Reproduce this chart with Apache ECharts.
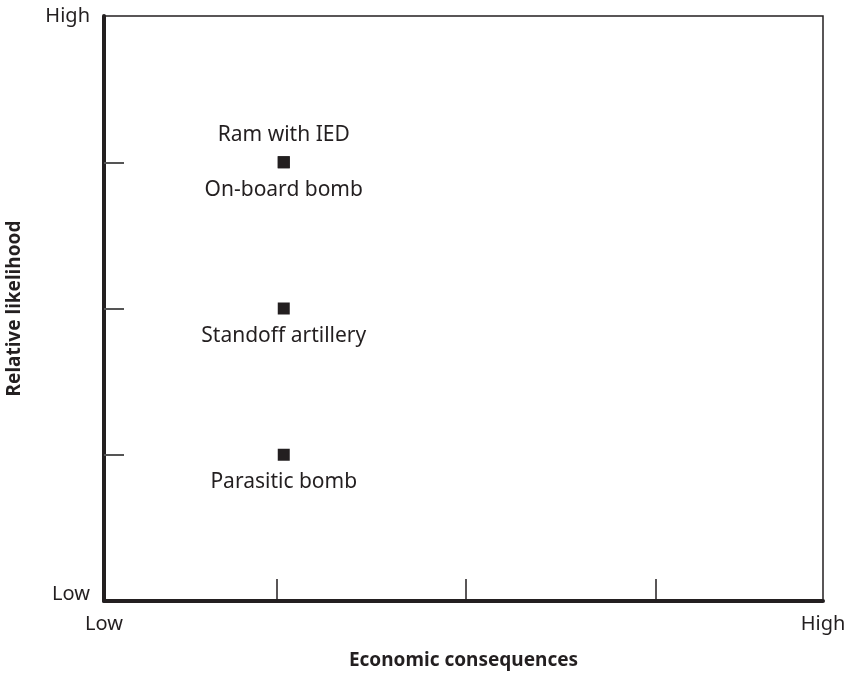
<!DOCTYPE html>
<html>
<head>
<meta charset="utf-8">
<script src="https://cdn.jsdelivr.net/npm/echarts@6/dist/echarts.min.js"></script>
<style>html,body{margin:0;padding:0;background:#fff}#c{width:848px;height:675px}</style>
</head>
<body>
<div id="c"></div>
<script>
// Data
const scenarios = ['Ram with IED', 'On-board bomb', 'Standoff artillery', 'Parasitic bomb'];
const economicConsequences = [25, 25, 25, 25];
const relativeLikelihood = [3, 3, 2, 1];
const labelSide = ['top', 'bottom', 'bottom', 'bottom'];
const xTickValues = [24, 50.3, 76.8];
const yTickValues = [1, 2, 3];
const xEndLabels = ['Low', 'High'];
const yEndLabels = ['Low', 'High'];
const xRange = [0, 100];
const yRange = [0, 4];

const FONT = 'Noto Sans';
const INK = '#231f20';

const chart = echarts.init(document.getElementById('c'), null, {renderer: 'canvas'});
chart.setOption({
  animation: false,
  backgroundColor: '#fff',
  grid: {left: 104, top: 16, right: 25, bottom: 74, show: true, borderColor: INK, borderWidth: 1.5,
    containLabel: false, outerBoundsMode: 'none'},
  xAxis: {
    type: 'value', min: xRange[0], max: xRange[1],
    name: 'Economic consequences', nameLocation: 'middle', nameGap: 50,
    nameTextStyle: {fontFamily: FONT, fontWeight: 'bold', fontSize: 19, color: INK},
    splitLine: {show: false},
    axisLine: {show: true, lineStyle: {color: INK, width: 4}},
    axisTick: {show: true, inside: true, length: 22, customValues: xTickValues, lineStyle: {color: INK, width: 1.5}},
    axisLabel: {show: true, customValues: xRange, margin: 13, fontFamily: FONT, fontSize: 20, color: INK,
      formatter: v => v === xRange[0] ? xEndLabels[0] : xEndLabels[1]}
  },
  yAxis: {
    type: 'value', min: yRange[0], max: yRange[1],
    name: 'Relative likelihood', nameLocation: 'middle', nameGap: 80,
    nameTextStyle: {fontFamily: FONT, fontWeight: 'bold', fontSize: 19, color: INK},
    splitLine: {show: false},
    axisLine: {show: true, lineStyle: {color: INK, width: 4}},
    axisTick: {show: true, inside: true, length: 20, customValues: yTickValues, lineStyle: {color: '#555', width: 2}},
    axisLabel: {show: true, customValues: yRange, margin: 14, fontFamily: FONT, fontSize: 20, color: INK,
      formatter: v => v === yRange[0] ? '{lo|' + yEndLabels[0] + '}' : yEndLabels[1],
      rich: {lo: {fontFamily: FONT, fontSize: 20, color: INK, padding: [0, 0, 14, 0]}}}
  },
  series: [{
    type: 'scatter',
    symbol: 'rect',
    symbolSize: 12,
    itemStyle: {color: INK, opacity: 1},
    data: scenarios.map((s, i) => ({
      value: [economicConsequences[i], relativeLikelihood[i]],
      name: s,
      label: {show: true, position: labelSide[i], distance: 11, formatter: s,
        fontFamily: FONT, fontSize: 21, color: INK, opacity: 1}
    }))
  }]
});
</script>
</body>
</html>
